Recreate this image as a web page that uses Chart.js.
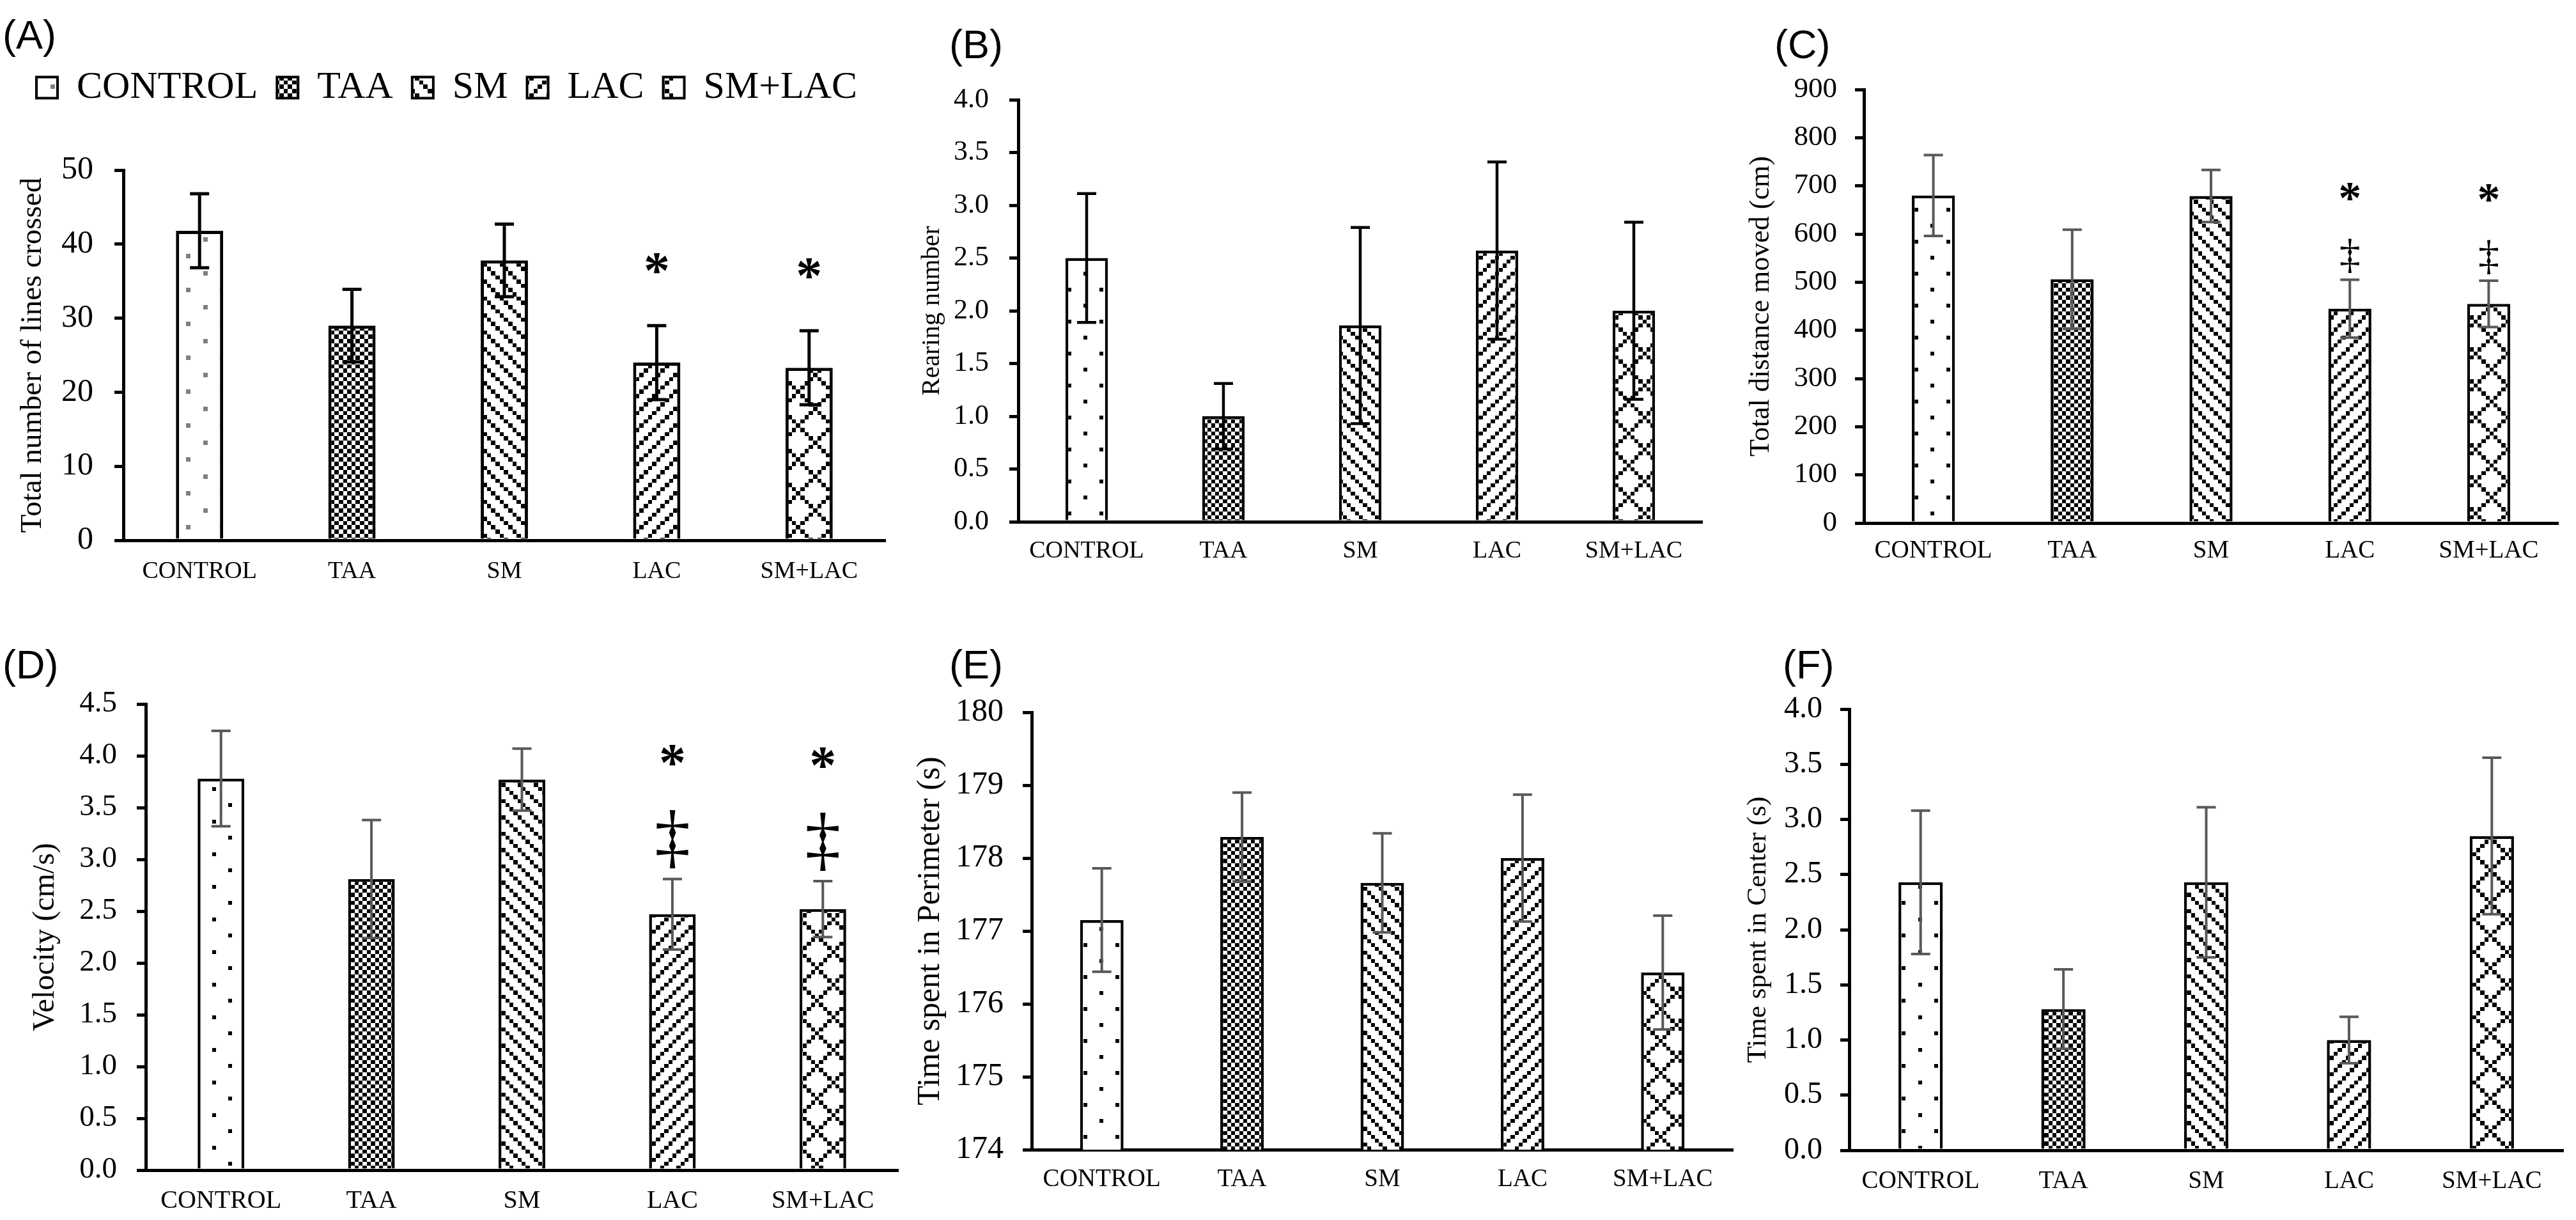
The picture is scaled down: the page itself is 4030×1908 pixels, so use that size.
<!DOCTYPE html>
<html>
<head>
<meta charset="utf-8">
<script src="https://cdn.jsdelivr.net/npm/chart.js@4.4.1/dist/chart.umd.min.js"></script>
<style>
html,body{margin:0;padding:0;background:#fff;}
body{width:4030px;height:1908px;position:relative;overflow:hidden;}
canvas{position:absolute;}
.lbl{position:absolute;font-family:'Liberation Sans',Arial,sans-serif;font-size:63px;line-height:1;color:#000;white-space:nowrap;}
</style>
</head>
<body>
<script>
// ---------------- DATA ----------------
const categories = ['CONTROL', 'TAA', 'SM', 'LAC', 'SM+LAC'];

const linesCrossed    = [41.8, 29.0, 37.8, 24.0, 23.3];
const linesCrossedErr = [5.0, 4.9, 4.9, 5.0, 5.0];
const rearing         = [2.5, 1.0, 1.86, 2.57, 2.0];
const rearingErr      = [0.61, 0.31, 0.93, 0.84, 0.84];
const distance        = [680, 506, 679, 445, 455];
const distanceErr     = [84, 103, 54, 60, 48];
const velocity        = [3.78, 2.81, 3.77, 2.47, 2.52];
const velocityErr     = [0.46, 0.57, 0.30, 0.34, 0.27];
const perimeter       = [177.15, 178.29, 177.66, 178.0, 176.43];
const perimeterErr    = [0.71, 0.61, 0.68, 0.87, 0.78];
const centerTime      = [2.43, 1.28, 2.43, 1.0, 2.85];
const centerTimeErr   = [0.65, 0.36, 0.68, 0.21, 0.71];

const starA   = ['', '', '', '*', '*'];
const starC   = ['', '', '', '*', '*'];
const daggerC = ['', '', '', '\u2021', '\u2021'];
const starD   = ['', '', '', '*', '*'];
const daggerD = ['', '', '', '\u2021', '\u2021'];

const yTicksA = [0, 10, 20, 30, 40, 50];
const yTicksB = [0, 0.5, 1.0, 1.5, 2.0, 2.5, 3.0, 3.5, 4.0];
const yTicksC = [0, 100, 200, 300, 400, 500, 600, 700, 800, 900];
const yTicksD = [0, 0.5, 1.0, 1.5, 2.0, 2.5, 3.0, 3.5, 4.0, 4.5];
const yTicksE = [174, 175, 176, 177, 178, 179, 180];
const yTicksF = [0, 0.5, 1.0, 1.5, 2.0, 2.5, 3.0, 3.5, 4.0];

const panelLetters = ['(A)', '(B)', '(C)', '(D)', '(E)', '(F)'];
const yTitles = ['Total number of lines crossed', 'Rearing number', 'Total distance moved (cm)',
                 'Velocity (cm/s)', 'Time spent in Perimeter (s)', 'Time spent in Center (s)'];

// ---------------- STYLE ----------------
Chart.defaults.font.family = "'Liberation Serif','Times New Roman',serif";
Chart.defaults.color = '#000';

const BMP = {
  dots: ['#.......','........','........','........','....#...','........','........','........'],
  checker: ['#.#.#.#.','.#.#.#.#','#.#.#.#.','.#.#.#.#','#.#.#.#.','.#.#.#.#','#.#.#.#.','.#.#.#.#'],
  down: ['#...#...','.#...#..','..#...#.','...#...#','#...#...','.#...#..','..#...#.','...#...#'],
  up: ['...#...#','..#...#.','.#...#..','#...#...','...#...#','..#...#.','.#...#..','#...#...'],
  diamond: ['#.......','.#.....#','..#...#.','...#.#..','....#...','...#.#..','..#...#.','.#.....#']
};
function makePattern(rows, cell, color) {
  const n = rows.length, size = Math.round(n * cell);
  const c = document.createElement('canvas');
  c.width = size; c.height = size;
  const g = c.getContext('2d');
  g.fillStyle = '#fff'; g.fillRect(0, 0, size, size);
  g.fillStyle = color;
  for (let r = 0; r < n; r++) for (let k = 0; k < n; k++) {
    if (rows[r][k] !== '#') continue;
    const x0 = Math.round(k * cell), x1 = Math.round((k + 1) * cell);
    const y0 = Math.round(r * cell), y1 = Math.round((r + 1) * cell);
    g.fillRect(x0, y0, x1 - x0, y1 - y0);
  }
  return g.createPattern(c, 'repeat');
}
function patternSet(cell, dotColor) {
  return [makePattern(BMP.dots, cell, dotColor), makePattern(BMP.checker, cell, '#000'),
          makePattern(BMP.down, cell, '#000'), makePattern(BMP.up, cell, '#000'),
          makePattern(BMP.diamond, cell, '#000')];
}

const errorBarPlugin = {
  id: 'errorBars',
  afterDatasetsDraw(chart, args, o) {
    const ctx = chart.ctx, y = chart.scales.y;
    const ds = chart.data.datasets[0];
    const meta = chart.getDatasetMeta(0);
    ctx.save();
    ctx.strokeStyle = o.color; ctx.lineWidth = o.width; ctx.lineCap = 'butt';
    meta.data.forEach((bar, i) => {
      const v = ds.data[i], e = ds.errors[i];
      const x = bar.x, yT = y.getPixelForValue(v + e), yB = y.getPixelForValue(v - e);
      ctx.beginPath();
      ctx.moveTo(x, yT); ctx.lineTo(x, yB);
      ctx.moveTo(x - o.cap / 2, yT); ctx.lineTo(x + o.cap / 2, yT);
      ctx.moveTo(x - o.cap / 2, yB); ctx.lineTo(x + o.cap / 2, yB);
      ctx.stroke();
    });
    ctx.fillStyle = '#000'; ctx.textAlign = 'center'; ctx.textBaseline = 'alphabetic';
    (o.marks || []).forEach(m => {
      ctx.font = (m.weight || 'normal') + ' ' + m.size + "px 'Liberation Serif','Times New Roman',serif";
      meta.data.forEach((bar, i) => {
        if (!m.text[i]) return;
        const yT = y.getPixelForValue(ds.data[i] + ds.errors[i]);
        const cy = yT - m.offset;
        ctx.fillText(m.text[i], bar.x, cy + m.k * m.size);
      });
    });
    ctx.restore();
  }
};

// ---------------- PANELS ----------------
const panels = [
  {x0:0, y0:0, W:1450, H:940, left:193, right:1385, top:266, bottom:845, padL:27, padTop:77, legend:true,
   values:linesCrossed, errors:linesCrossedErr, ticks:yTicksA, dec:0, tickSize:50, tickEdge:146,
   catSize:38, catCy:894, titleSize:47, titleCx:52, title:yTitles[0], errColor:'#000', errW:5, bw:5,
   cell:6.6, dotColor:'#808080', marks:[{text:starA, size:82, offset:98, k:0.47, weight:'bold'}]},
  {x0:1420, y0:0, W:1263, H:940, left:1593, right:2663, top:156, bottom:816, padL:0,
   values:rearing, errors:rearingErr, ticks:yTicksB, dec:1, tickSize:44, tickEdge:1547,
   catSize:38, catCy:862, titleSize:41, titleCx:1458, title:yTitles[1], errColor:'#000', errW:4.5, bw:4.5,
   cell:6.2, dotColor:'#000', marks:[]},
  {x0:2720, y0:0, W:1310, H:940, left:2916, right:4002, top:140, bottom:818, padL:0,
   values:distance, errors:distanceErr, ticks:yTicksC, dec:0, tickSize:45, tickEdge:2874,
   catSize:39, catCy:862, titleSize:44, titleCx:2755, title:yTitles[2], errColor:'#595959', errW:4, bw:4.5,
   cell:6.2, dotColor:'#000', marks:[{text:starC, size:72, offset:138, k:0.47, weight:'bold'},{text:daggerC, size:66, offset:36, k:0.265}]},
  {x0:0, y0:950, W:1440, H:958, left:228, right:1405, top:1101, bottom:1830, padL:0,
   values:velocity, errors:velocityErr, ticks:yTicksD, dec:1, tickSize:47, tickEdge:183,
   catSize:40, catCy:1878, titleSize:48, titleCx:71, title:yTitles[3], errColor:'#595959', errW:4, bw:4.5,
   cell:6.4, dotColor:'#000', marks:[{text:starD, size:84, offset:193, k:0.47, weight:'bold'},{text:daggerD, size:112, offset:59, k:0.265}]},
  {x0:1420, y0:950, W:1310, H:958, left:1614, right:2711, top:1114, bottom:1798, padL:0,
   values:perimeter, errors:perimeterErr, ticks:yTicksE, dec:0, tickSize:50, tickEdge:1570,
   catSize:39, catCy:1845, titleSize:50, titleCx:1456, title:yTitles[4], errColor:'#595959', errW:4, bw:4.5,
   cell:6.2, dotColor:'#000', marks:[]},
  {x0:2720, y0:950, W:1310, H:958, left:2893, right:4010, top:1109, bottom:1799, padL:0,
   values:centerTime, errors:centerTimeErr, ticks:yTicksF, dec:1, tickSize:48, tickEdge:2851,
   catSize:39, catCy:1848, titleSize:43, titleCx:2751, title:yTitles[5], errColor:'#595959', errW:4, bw:4.5,
   cell:6.4, dotColor:'#000', marks:[]}
];

const letterPos = [[4, 60], [1485, 75], [2776, 75], [4, 1045], [1485, 1045], [2789, 1045]];
panelLetters.forEach((t, i) => {
  const d = document.createElement('div');
  d.className = 'lbl'; d.textContent = t;
  d.style.left = letterPos[i][0] + 'px';
  d.style.top = (letterPos[i][1] - 37) + 'px';
  document.body.appendChild(d);
});

const TICKLEN = 14;
panels.forEach(p => {
  const cv = document.createElement('canvas');
  cv.width = p.W; cv.height = p.H;
  cv.style.left = p.x0 + 'px'; cv.style.top = p.y0 + 'px';
  document.body.appendChild(cv);
  const pats = patternSet(p.cell, p.dotColor);
  const padR = p.x0 + p.W - p.right;
  const yWidth = p.left - p.x0 - p.padL;
  const xHeight = p.y0 + p.H - p.bottom;
  const catLH = p.catSize * 1.2;
  const plugins = {
    tooltip: {enabled: false},
    legend: {display: false},
    title: {display: false},
    errorBars: {color: p.errColor, width: p.errW, cap: 30, marks: p.marks}
  };
  if (p.legend) {
    plugins.legend = {
      display: true, position: 'top', align: 'start',
      labels: {
        boxWidth: 33, boxHeight: 33, padding: 30, color: '#000',
        font: {size: 60, family: "'Liberation Serif','Times New Roman',serif"},
        generateLabels: () => categories.map((c, i) => ({
          text: c, fillStyle: pats[i], strokeStyle: '#000', lineWidth: 4,
          hidden: false, index: i, datasetIndex: 0
        }))
      }
    };
    plugins.title = {display: true, text: '', weight: 500, padding: 0, font: {size: 89, lineHeight: 1}};
  }
  new Chart(cv, {
    type: 'bar',
    data: {
      labels: categories,
      datasets: [{
        data: p.values, errors: p.errors,
        backgroundColor: pats, borderColor: '#000', borderWidth: p.bw,
        barPercentage: 0.31, categoryPercentage: 1
      }]
    },
    options: {
      responsive: false, animation: false, devicePixelRatio: 1, events: [],
      layout: {padding: {left: p.padL, right: padR, top: p.legend ? p.padTop : (p.top - p.y0), bottom: 0}},
      plugins: plugins,
      scales: {
        x: {
          type: 'category', offset: true, z: 1,
          grid: {display: false, drawTicks: false},
          border: {display: true, color: '#000', width: 5},
          ticks: {font: {size: p.catSize}, color: '#000', padding: p.catCy - p.bottom - catLH / 2,
                  maxRotation: 0, autoSkip: false},
          afterFit: s => { s.height = xHeight; }
        },
        y: {
          min: p.ticks[0], max: p.ticks[p.ticks.length - 1],
          grid: {display: true, drawOnChartArea: false, drawTicks: true, tickLength: TICKLEN,
                 tickWidth: 5, tickColor: '#000', color: '#000', lineWidth: 5},
          border: {display: true, color: '#000', width: 5},
          ticks: {stepSize: p.ticks[1] - p.ticks[0], autoSkip: false, color: '#000',
                  font: {size: p.tickSize}, padding: p.left - p.tickEdge - TICKLEN,
                  callback: v => Number(v).toFixed(p.dec)},
          title: {display: true, text: p.title, color: '#000',
                  font: {size: p.titleSize, lineHeight: 1},
                  padding: {top: p.titleCx - p.x0 - p.padL - p.titleSize / 2, bottom: 0}},
          afterFit: s => { s.width = yWidth; }
        }
      }
    },
    plugins: [errorBarPlugin]
  });
});
</script>
</body>
</html>
